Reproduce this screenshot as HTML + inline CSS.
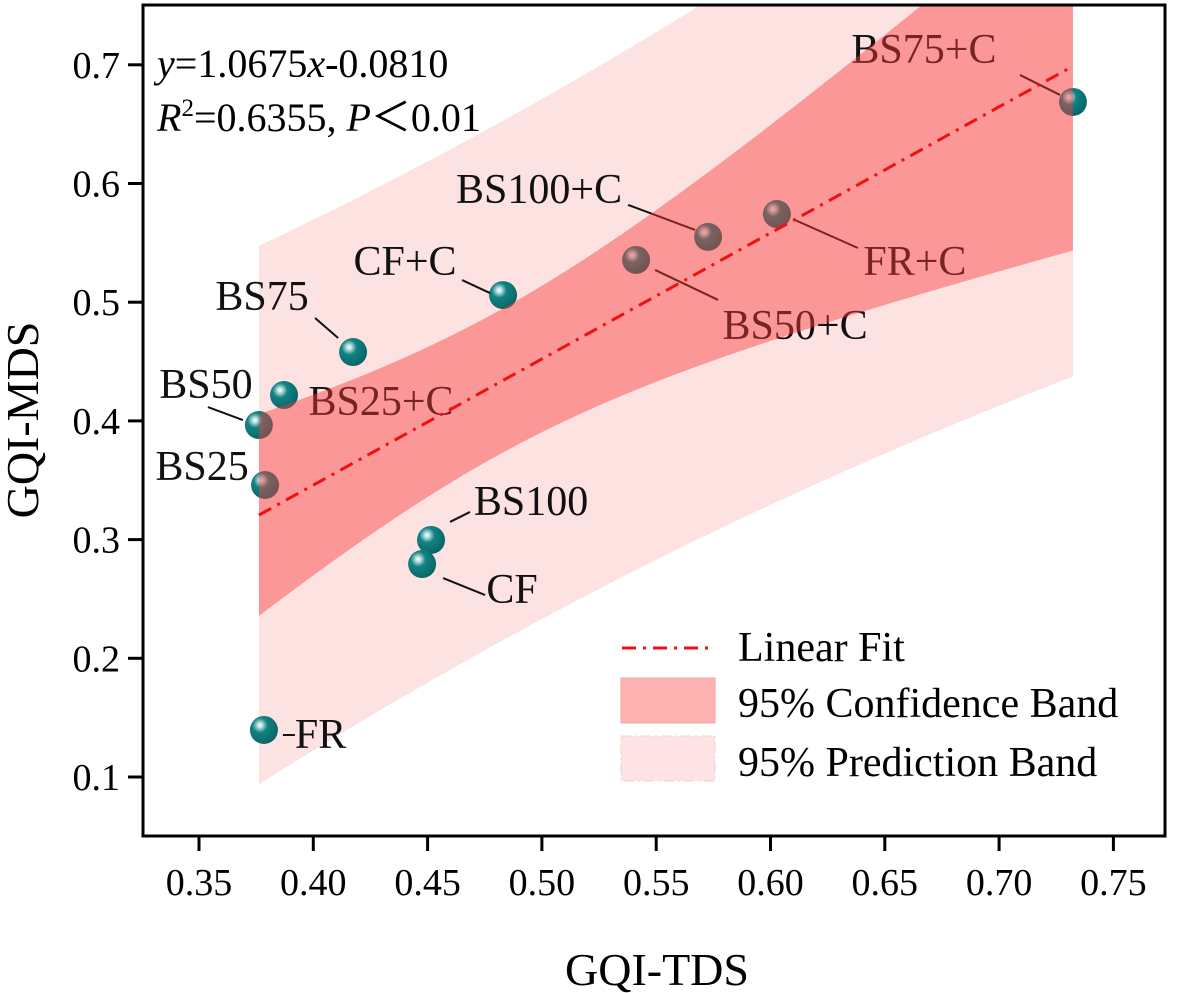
<!DOCTYPE html>
<html><head><meta charset="utf-8"><style>
body{margin:0;background:#fff}
svg{display:block;font-family:"Liberation Serif",serif}
</style></head><body>
<svg id="c" width="1181" height="993" viewBox="0 0 1181 993" xmlns="http://www.w3.org/2000/svg">
<defs>
<radialGradient id="ball" cx="0.36" cy="0.33" r="0.7">
<stop offset="0" stop-color="#ffffff"/>
<stop offset="0.12" stop-color="#bfe3e3"/>
<stop offset="0.38" stop-color="#118383"/>
<stop offset="1" stop-color="#0a6464"/>
</radialGradient>
<clipPath id="plotclip"><rect x="143" y="5" width="1022" height="831"/></clipPath>
</defs>
<g id="under" clip-path="url(#plotclip)"></g>
<g id="marks" clip-path="url(#plotclip)"></g>
<g id="legend">
<rect x="605" y="622" width="468" height="170" fill="#fff"/>
<line x1="622" y1="648" x2="715" y2="648" stroke="#f01010" stroke-width="3" stroke-dasharray="14,7,3,7"/>
<text x="738" y="661" font-size="42">Linear Fit</text>
<rect x="621" y="678" width="94" height="45" fill="#feb3b3" stroke="#f9a0a0"/>
<text x="738" y="717" font-size="42">95% Confidence Band</text>
<rect x="621" y="736" width="94" height="45" fill="#fde3e3" stroke="#f8cccc" stroke-dasharray="10,4,2,4"/>
<text x="738" y="776" font-size="42">95% Prediction Band</text>
</g>
<g font-size="40">
<text x="157" y="77"><tspan font-style="italic">y</tspan>=1.0675<tspan font-style="italic">x</tspan>-0.0810</text>
<text x="157" y="131"><tspan font-style="italic">R</tspan><tspan font-size="25" dy="-15">2</tspan><tspan dy="15">=0.6355, </tspan><tspan font-style="italic">P</tspan>＜0.01</text>
</g>
<rect x="143" y="5" width="1022" height="831" fill="none" stroke="#000" stroke-width="3"/>
<g id="axes"></g>
<text x="657" y="985" font-size="46" text-anchor="middle">GQI-TDS</text>
<text transform="translate(38,420) rotate(-90)" font-size="46" text-anchor="middle">GQI-MDS</text>
</svg>
<script>
const labels=["BS75+C","FR+C","BS100+C","BS50+C","CF+C","BS75","BS25+C","BS50","BS25","BS100","CF","FR"];
const xVals=[0.7323,0.6028,0.5727,0.5412,0.483,0.4174,0.3872,0.3762,0.3789,0.4515,0.4476,0.3784];
const yVals=[0.6687,0.5743,0.555,0.5356,0.506,0.458,0.4218,0.3965,0.346,0.2997,0.2794,0.1396];
const xTicks=[0.35,0.40,0.45,0.50,0.55,0.60,0.65,0.70,0.75];
const yTicks=[0.1,0.2,0.3,0.4,0.5,0.6,0.7];
const lab={
"BS75+C":[-149,-52,"middle",-53,-27,-13,-7],
"FR+C":[138,48,"middle",18,6,81,34],
"BS100+C":[-169,-47,"middle",-80,-32,-13,-7],
"BS50+C":[159,66,"middle",19,10,82,40],
"CF+C":[-98,-33,"middle",-41,-15,-13,-2],
"BS75":[-91,-55,"middle",-38,-34,-15,-14],
"BS25+C":[97,7,"middle",0,0,0,0],
"BS50":[-53,-40,"middle",-51,-18,-16,-5],
"BS25":[-63,-18,"middle",0,0,0,0],
"BS100":[100,-38,"middle",19,-18,39,-28],
"CF":[90,26,"middle",21,14,63,31],
"FR":[31,5,"start",19,5,31,5]};
const NS="http://www.w3.org/2000/svg";
const X=v=>199+(v-0.35)/0.05*114.3;
const Y=v=>777-(v-0.1)/0.1*118.7;
function mk(t,a,p){const e=document.createElementNS(NS,t);for(const k in a)e.setAttribute(k,a[k]);(p||document.getElementById('marks')).appendChild(e);return e;}
const under=document.getElementById('under'),axes=document.getElementById('axes');
const n=xVals.length;const xm=xVals.reduce((a,b)=>a+b)/n,ym=yVals.reduce((a,b)=>a+b)/n;
let sxx=0,sxy=0;for(let i=0;i<n;i++){sxx+=(xVals[i]-xm)**2;sxy+=(xVals[i]-xm)*(yVals[i]-ym);}
const b=sxy/sxx,a0=ym-b*xm;let sse=0;for(let i=0;i<n;i++)sse+=(yVals[i]-a0-b*xVals[i])**2;
const s=Math.sqrt(sse/(n-2)),t=2.228;
const xmin=Math.min(...xVals),xmax=Math.max(...xVals);
function band(extra){const up=[],lo=[];const N=80;for(let k=0;k<=N;k++){const x=xmin+(xmax-xmin)*k/N;const f=a0+b*x;const hw=t*s*Math.sqrt(extra+1/n+(x-xm)**2/sxx);up.push(X(x)+','+Y(f+hw));lo.unshift(X(x)+','+Y(f-hw));}return up.concat(lo).join(' ');}
const pb=mk('polygon',{points:band(1),fill:'#fde2e2'},under);


for(let i=0;i<n;i++){
 const px=X(xVals[i]),py=Y(yVals[i]);
 const g=mk('g',{});
 
 
 mk('circle',{cx:px,cy:py,r:14,fill:'url(#ball)'},g);
 const L=lab[labels[i]];
 if(L[3]||L[5]) {const ln=mk('line',{x1:px+L[3],y1:py+L[4],x2:px+L[5],y2:py+L[6],stroke:'#111','stroke-width':2},g);
 
 }
 const tx=mk('text',{x:px+L[0],y:py+L[1],'font-size':42,'text-anchor':L[2],'dominant-baseline':'central',fill:'#111'},g);
 tx.textContent=labels[i];
 
 
}
const cb=mk('polygon',{points:band(0),fill:'rgb(248,60,60)','fill-opacity':0.45});


const fl=mk('line',{x1:X(xmin),y1:Y(a0+b*xmin),x2:X(xmax),y2:Y(a0+b*xmax),stroke:'#f01010','stroke-width':3,'stroke-dasharray':'14,7,3,7'});


xTicks.forEach(v=>{const x=X(v);
 mk('line',{x1:x,y1:836,x2:x,y2:851,stroke:'#000','stroke-width':3},axes);
 const tx=mk('text',{x:x,y:895,'font-size':38,'text-anchor':'middle'},axes);tx.textContent=v.toFixed(2);
 
 });
yTicks.forEach(v=>{const y=Y(v);
 mk('line',{x1:128,y1:y,x2:143,y2:y,stroke:'#000','stroke-width':3},axes);
 const tx=mk('text',{x:120,y:y+13,'font-size':38,'text-anchor':'end'},axes);tx.textContent=v.toFixed(1);
 
 });
</script>
</body></html>
